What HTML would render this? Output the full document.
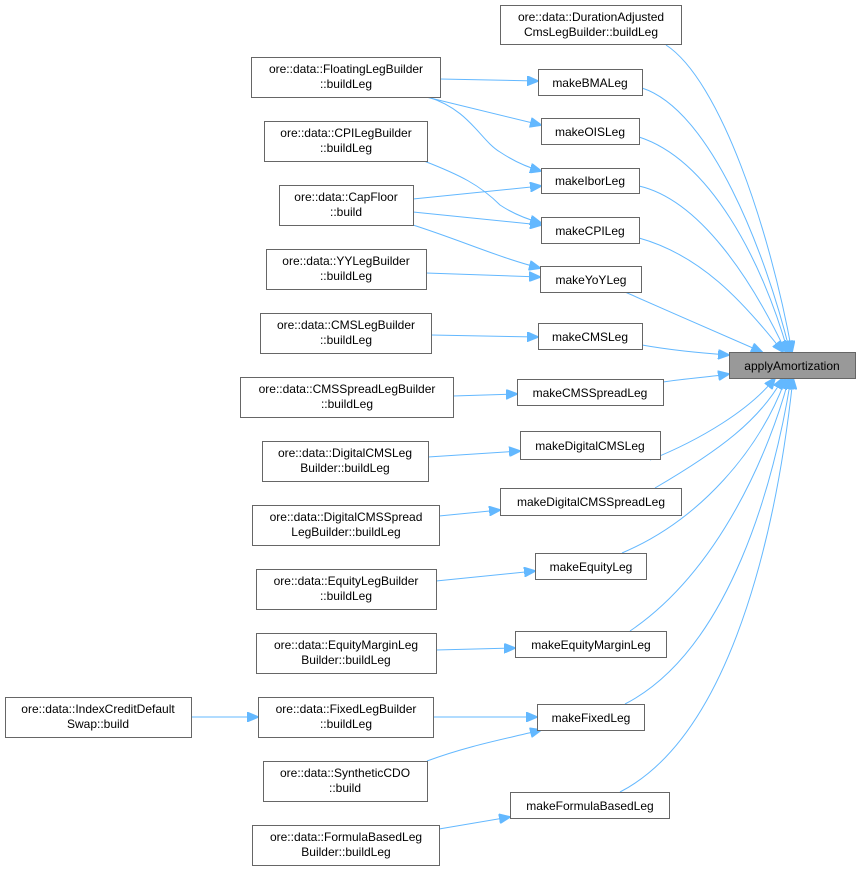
<!DOCTYPE html>
<html><head><meta charset="utf-8"><style>
html,body{margin:0;padding:0;background:#fff;}
svg text{font-family:"Liberation Sans",Arial,sans-serif;font-size:12px;fill:#000;}
</style></head><body>
<svg width="861" height="871" viewBox="0 0 861 871" xmlns="http://www.w3.org/2000/svg">
<defs><marker id="a" markerWidth="12" markerHeight="10" refX="11" refY="5" orient="auto" markerUnits="userSpaceOnUse"><path d="M0,0 L12,5 L0,10 Z" fill="#63b8ff" stroke="#63b8ff"/></marker></defs>
<g fill="none" stroke="#63b8ff" stroke-width="1" marker-end="url(#a)">
<path d="M666,45 C720,80 770,230 792,352"/>
<path d="M642,88 C710,110 765,250 790,352"/>
<path d="M639,137 C710,160 762,260 788,352"/>
<path d="M639,186 C700,200 752,280 786,352"/>
<path d="M639,238 C700,255 742,300 783,352"/>
<path d="M625,292 C670,312 730,338 762,352"/>
<path d="M642,345 C670,350 700,353 729,355"/>
<path d="M663,382 C690,378 710,377 729,374"/>
<path d="M650,460 C700,440 750,410 775,378"/>
<path d="M655,488 C720,450 760,420 783,378"/>
<path d="M622,553 C700,520 760,450 786,378"/>
<path d="M630,631 C720,570 770,450 789,378"/>
<path d="M625,704 C730,650 775,480 791,378"/>
<path d="M620,792 C740,730 780,500 793,378"/>
<path d="M440,79 L538,81"/>
<path d="M426,97 L541,125"/>
<path d="M428,97 C470,110 480,140 500,152 C515,162 530,168 541,171"/>
<path d="M424,161 C460,175 480,185 500,205 C515,215 530,220 541,223"/>
<path d="M413,199 L541,186"/>
<path d="M413,212 L541,225"/>
<path d="M413,225 C460,240 500,258 540,268"/>
<path d="M426,273 L540,277"/>
<path d="M431,335 L538,337"/>
<path d="M453,396 L517,394"/>
<path d="M428,457 L520,451"/>
<path d="M439,516 L500,510"/>
<path d="M436,581 L535,571"/>
<path d="M436,650 L515,648"/>
<path d="M191,717 L258,717"/>
<path d="M433,717 L537,717"/>
<path d="M427,761 C470,745 510,738 541,730"/>
<path d="M439,829 L510,817"/>
</g>
<g fill="#fff" stroke="#666" stroke-width="1">
<rect x="500.5" y="5.5" width="181" height="39"/>
<rect x="251.5" y="57.5" width="189" height="40"/>
<rect x="264.5" y="121.5" width="163" height="40"/>
<rect x="279.5" y="185.5" width="134" height="40"/>
<rect x="266.5" y="249.5" width="160" height="40"/>
<rect x="260.5" y="313.5" width="171" height="40"/>
<rect x="240.5" y="377.5" width="213" height="40"/>
<rect x="262.5" y="441.5" width="166" height="40"/>
<rect x="252.5" y="505.5" width="187" height="40"/>
<rect x="256.5" y="569.5" width="180" height="40"/>
<rect x="256.5" y="633.5" width="180" height="40"/>
<rect x="5.5" y="697.5" width="186" height="40"/>
<rect x="258.5" y="697.5" width="175" height="40"/>
<rect x="263.5" y="761.5" width="164" height="40"/>
<rect x="252.5" y="825.5" width="187" height="40"/>
<rect x="538.5" y="69.5" width="104" height="26"/>
<rect x="541.5" y="118.5" width="98" height="26"/>
<rect x="541.5" y="168.5" width="98" height="25"/>
<rect x="541.5" y="217.5" width="98" height="26"/>
<rect x="540.5" y="266.5" width="101" height="26"/>
<rect x="538.5" y="323.5" width="104" height="26"/>
<rect x="517.5" y="379.5" width="146" height="26"/>
<rect x="520.5" y="431.5" width="140" height="28"/>
<rect x="500.5" y="488.5" width="181" height="27"/>
<rect x="535.5" y="553.5" width="111" height="26"/>
<rect x="515.5" y="631.5" width="151" height="26"/>
<rect x="537.5" y="704.5" width="107" height="26"/>
<rect x="510.5" y="792.5" width="159" height="26"/>
<rect x="729.5" y="352.5" width="126" height="26" fill="#999"/>
</g>
<g text-anchor="middle">
<text x="591" y="21">ore::data::DurationAdjusted</text><text x="591" y="36">CmsLegBuilder::buildLeg</text>
<text x="346" y="73">ore::data::FloatingLegBuilder</text><text x="346" y="88">::buildLeg</text>
<text x="346" y="137">ore::data::CPILegBuilder</text><text x="346" y="152">::buildLeg</text>
<text x="346" y="201">ore::data::CapFloor</text><text x="346" y="216">::build</text>
<text x="346" y="265">ore::data::YYLegBuilder</text><text x="346" y="280">::buildLeg</text>
<text x="346" y="329">ore::data::CMSLegBuilder</text><text x="346" y="344">::buildLeg</text>
<text x="347" y="393">ore::data::CMSSpreadLegBuilder</text><text x="347" y="408">::buildLeg</text>
<text x="345" y="457">ore::data::DigitalCMSLeg</text><text x="345" y="472">Builder::buildLeg</text>
<text x="346" y="521">ore::data::DigitalCMSSpread</text><text x="346" y="536">LegBuilder::buildLeg</text>
<text x="346" y="585">ore::data::EquityLegBuilder</text><text x="346" y="600">::buildLeg</text>
<text x="346" y="649">ore::data::EquityMarginLeg</text><text x="346" y="664">Builder::buildLeg</text>
<text x="98" y="713">ore::data::IndexCreditDefault</text><text x="98" y="728">Swap::build</text>
<text x="346" y="713">ore::data::FixedLegBuilder</text><text x="346" y="728">::buildLeg</text>
<text x="345" y="777">ore::data::SyntheticCDO</text><text x="345" y="792">::build</text>
<text x="346" y="841">ore::data::FormulaBasedLeg</text><text x="346" y="856">Builder::buildLeg</text>
<text x="590" y="87">makeBMALeg</text>
<text x="590" y="136">makeOISLeg</text>
<text x="590" y="185">makeIborLeg</text>
<text x="590" y="235">makeCPILeg</text>
<text x="591" y="284">makeYoYLeg</text>
<text x="590" y="341">makeCMSLeg</text>
<text x="590" y="397">makeCMSSpreadLeg</text>
<text x="590" y="450">makeDigitalCMSLeg</text>
<text x="591" y="506">makeDigitalCMSSpreadLeg</text>
<text x="591" y="571">makeEquityLeg</text>
<text x="591" y="649">makeEquityMarginLeg</text>
<text x="591" y="722">makeFixedLeg</text>
<text x="590" y="810">makeFormulaBasedLeg</text>
<text x="792" y="370">applyAmortization</text>
</g>
</svg>
</body></html>
